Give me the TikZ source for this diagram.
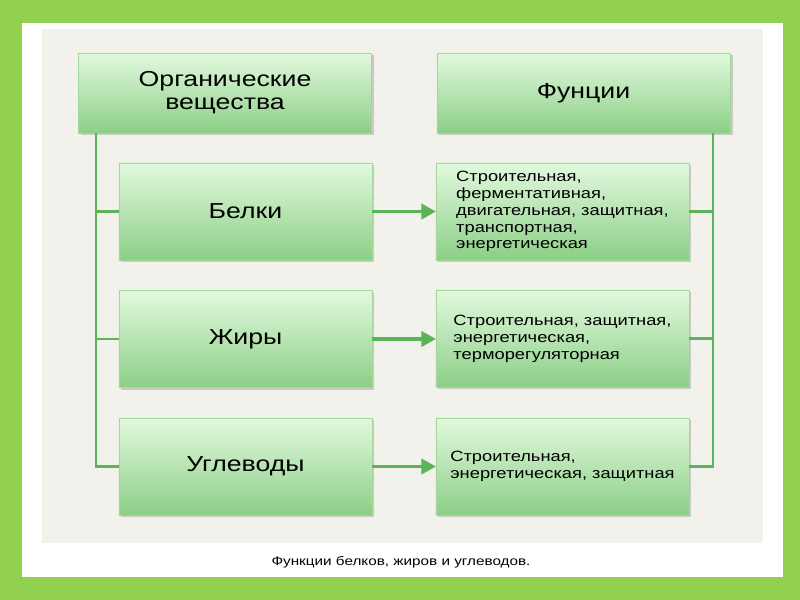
\documentclass[tikz,border=0pt]{standalone}
\usepackage{fontspec}
\setmainfont[FakeStretch=1.23]{Liberation Sans}
\usetikzlibrary{arrows.meta,positioning,shadows}

\definecolor{framegreen}{RGB}{146,208,80}
\definecolor{panelgray}{RGB}{242,241,236}
\definecolor{linegreen}{RGB}{92,180,88}
\definecolor{boxtop}{RGB}{226,249,222}
\definecolor{boxmid}{RGB}{212,243,207}
\definecolor{boxbot}{RGB}{140,207,134}
\definecolor{boxedge}{RGB}{165,215,155}

\begin{document}
\begin{tikzpicture}[
  x=0.03cm, y=-0.03cm,
  box/.style={draw=boxedge, thin, top color=boxtop, middle color=boxmid, bottom color=boxbot,
    inner sep=0pt, outer sep=0pt, align=center,
    drop shadow={opacity=0.35, shadow xshift=0.07cm, shadow yshift=-0.07cm}},
  headbox/.style={box, minimum width=8.8cm, minimum height=2.4cm, font=\fontsize{18.5}{19.5}\selectfont},
  itembox/.style={box, minimum width=7.59cm, minimum height=2.91cm, font=\fontsize{18.5}{19.5}\selectfont},
  funcbox/.style={box, align=left, minimum width=7.59cm, minimum height=2.91cm, font=\fontsize{12.7}{14.4}\selectfont},
  link/.style={draw=linegreen, line width=2pt},
  arrow/.style={draw=linegreen, line width=2.6pt, -{Triangle[length=4.4mm, width=4.6mm]}}
]

\fill[framegreen] (0,0) rectangle (800,600);
\fill[white] (22,23) rectangle (783,577);
\fill[panelgray] (42,29) rectangle (763,543);

\node[headbox] (org) at (225,93) {Органические\\вещества};
\node[headbox] (func) at (583.5,93) {Фунции};

\node[itembox] (prot) at (245.5,211.5) {Белки};
\node[itembox] (fat) at (245.5,339) {Жиры};
\node[itembox] (carb) at (245.5,466.5) {Углеводы};

\node[funcbox] (fprot) at (562.5,211.5)
  {Строительная,\\ферментативная,\\двигательная, защитная,\\транспортная,\\энергетическая};
\node[funcbox] (ffat) at (562.5,338.5)
  {Строительная, защитная,\\энергетическая,\\терморегуляторная};
\node[funcbox] (fcarb) at (562.5,466.5)
  {Строительная,\\энергетическая, защитная};

\coordinate (lt) at (96,133);
\coordinate (rt) at (713,133);

\draw[link] (lt) |- (carb.west);
\draw[link] (lt |- prot.west) -- (prot.west);
\draw[link] (lt |- fat.west) -- (fat.west);

\draw[link] (rt) |- (fcarb.east);
\draw[link] (fprot.east) -- (rt |- fprot.east);
\draw[link] (ffat.east) -- (rt |- ffat.east);

\draw[arrow] (prot.east) -- (fprot.west);
\draw[arrow] (fat.east) -- (fat.east -| ffat.west);
\draw[arrow] (carb.east) -- (fcarb.west);

\node[font=\fontsize{10.6}{12}\selectfont] (caption) at (401,562) {Функции белков, жиров и углеводов.};

\end{tikzpicture}
\end{document}
